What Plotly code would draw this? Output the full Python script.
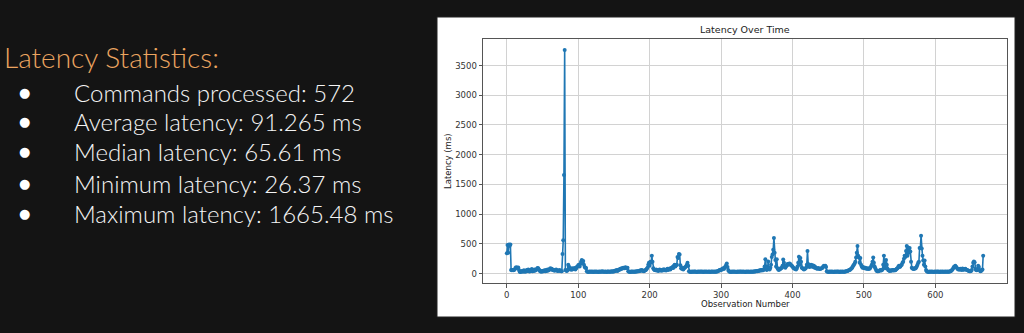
import plotly.graph_objects as go

# ---------------- data ----------------
stats_title = "Latency Statistics:"
stat_lines = [
    "Commands processed: 572",
    "Average latency: 91.265 ms",
    "Median latency: 65.61 ms",
    "Minimum latency: 26.37 ms",
    "Maximum latency: 1665.48 ms",
]

latency_ms = [
    340, 480, 350, 490, 470, 490, 60, 55, 62, 58,
    60, 70, 95, 105, 100, 98, 104, 60, 30, 28,
    35, 42, 30, 38, 55, 32, 40, 36, 60, 45,
    70, 38, 34, 62, 45, 75, 40, 55, 42, 68,
    50, 60, 78, 95, 90, 70, 48, 38, 30, 42,
    35, 48, 40, 55, 38, 62, 45, 70, 52, 60,
    75, 88, 70, 82, 65, 55, 60, 48, 62, 70,
    58, 45, 52, 48, 60, 42, 38, 40, 330, 560,
    1660, 3760, 60, 50, 45, 55, 150, 120, 90, 70,
    85, 65, 90, 75, 80, 95, 70, 85, 110, 120,
    140, 150, 120, 160, 200, 230, 180, 210, 150, 110,
    100, 95, 40, 30, 28, 32, 35, 30, 29, 33,
    30, 28, 34, 31, 29, 36, 30, 32, 28, 35,
    31, 29, 33, 30, 38, 32, 29, 31, 34, 30,
    28, 33, 36, 30, 29, 35, 31, 40, 33, 30,
    45, 38, 52, 48, 60, 42, 55, 70, 65, 80,
    78, 90, 85, 100, 95, 88, 105, 98, 92, 100,
    40, 30, 32, 28, 35, 30, 33, 29, 31, 36,
    30, 34, 40, 36, 45, 38, 42, 55, 48, 60,
    52, 45, 40, 50, 55, 65, 80, 100, 150, 180,
    130, 200, 180, 300, 200, 90, 70, 60, 55, 68,
    50, 62, 45, 58, 70, 52, 60, 48, 65, 55,
    72, 58, 62, 50, 68, 80, 60, 75, 85, 70,
    90, 100, 110, 95, 130, 150, 120, 140, 150, 280,
    260, 330, 320, 140, 90, 80, 95, 70, 85, 100,
    110, 120, 150, 180, 130, 40, 32, 30, 28, 34,
    30, 29, 33, 31, 35, 30, 28, 32, 34, 30,
    31, 36, 29, 33, 30, 28, 35, 31, 30, 33,
    29, 32, 30, 34, 31, 28, 33, 30, 36, 31,
    30, 35, 29, 32, 40, 36, 45, 50, 60, 55,
    70, 65, 80, 90, 75, 100, 120, 140, 170, 110,
    60, 40, 32, 30, 28, 33, 31, 29, 35, 30,
    32, 30, 28, 34, 31, 29, 33, 30, 36, 31,
    29, 34, 30, 32, 28, 35, 31, 30, 33, 29,
    31, 30, 36, 32, 29, 34, 30, 38, 33, 40,
    42, 38, 45, 50, 48, 55, 60, 52, 65, 58,
    70, 120, 240, 110, 60, 80, 205, 90, 70, 100,
    150, 280, 320, 400, 600, 350, 230, 120, 240, 90,
    70, 60, 80, 75, 90, 100, 130, 237, 180, 110,
    100, 120, 140, 160, 150, 165, 170, 155, 140, 130,
    120, 100, 90, 80, 75, 70, 85, 120, 180, 282,
    150, 260, 200, 100, 90, 80, 70, 75, 85, 100,
    150, 378, 160, 120, 110, 130, 150, 120, 140, 110,
    130, 100, 110, 90, 85, 80, 95, 85, 75, 80,
    85, 90, 100, 120, 130, 125, 130, 110, 40, 32,
    30, 28, 33, 31, 29, 35, 30, 32, 28, 34,
    31, 30, 36, 29, 33, 30, 28, 35, 31, 30,
    33, 29, 32, 30, 36, 40, 38, 45, 50, 55,
    60, 70, 80, 90, 110, 130, 150, 170, 200, 270,
    350, 463, 300, 270, 180, 260, 150, 120, 100, 110,
    95, 90, 100, 85, 80, 90, 75, 85, 80, 100,
    120, 150, 200, 270, 180, 120, 90, 60, 45, 40,
    38, 45, 52, 60, 50, 55, 70, 150, 300, 120,
    90, 230, 150, 80, 60, 50, 45, 55, 48, 52,
    60, 55, 50, 62, 58, 70, 80, 90, 110, 130,
    110, 120, 140, 150, 180, 200, 250, 300, 280, 380,
    463, 300, 440, 350, 430, 370, 200, 100, 85, 80,
    75, 90, 85, 100, 120, 150, 180, 200, 430, 430,
    637, 420, 300, 220, 150, 220, 120, 60, 40, 32,
    30, 28, 33, 31, 29, 35, 30, 32, 28, 34,
    31, 30, 36, 29, 33, 30, 28, 35, 31, 30,
    33, 29, 32, 30, 36, 31, 29, 34, 30, 32,
    35, 40, 45, 55, 70, 90, 110, 120, 130, 115,
    100, 80, 70, 75, 65, 80, 72, 60, 85, 70,
    65, 78, 80, 70, 60, 55, 50, 45, 40, 38,
    42, 60, 120, 180, 203, 190, 80, 60, 55, 70,
    130, 110, 60, 40, 45, 55, 70, 300,
]
observation = list(range(len(latency_ms)))

x_ticks = [0, 100, 200, 300, 400, 500, 600]
y_ticks = [0, 500, 1000, 1500, 2000, 2500, 3000, 3500]

chart_title = "Latency Over Time"
x_title = "Observation Number"
y_title = "Latency (ms)"

# ---------------- figure ----------------
W, H = 1024, 333
BG = "#141414"
LINE = "#1f77b4"
FONT = "DejaVu Sans"


def px_x(p):
    return p / W


def px_y(p):
    return 1 - p / H


# matplotlib-like 5% auto margins
xmin, xmax = min(observation), max(observation)
ymin, ymax = min(latency_ms), max(latency_ms)
xr = [xmin - 0.05 * (xmax - xmin), xmax + 0.05 * (xmax - xmin)]
yr = [ymin - 0.05 * (ymax - ymin), ymax + 0.05 * (ymax - ymin)]

fig = go.Figure()
fig.add_trace(go.Scatter(
    x=observation, y=latency_ms, mode="lines+markers",
    line=dict(color=LINE, width=1.6),
    marker=dict(color=LINE, size=4),
    hoverinfo="skip", showlegend=False,
))

axis_common = dict(
    showline=True, linecolor="#555", linewidth=1, mirror=True,
    showgrid=True, gridcolor="#d2d2d2", gridwidth=1,
    zeroline=False, ticks="outside", ticklen=3.5, tickwidth=1, tickcolor="#555",
    tickfont=dict(family=FONT, size=8.5, color="#333"),
)

fig.update_layout(
    width=W, height=H,
    margin=dict(l=0, r=0, t=0, b=0),
    paper_bgcolor=BG, plot_bgcolor="white",
    xaxis=dict(domain=[px_x(483), px_x(1007)], range=xr,
               tickvals=x_ticks, ticktext=[str(v) for v in x_ticks],
               anchor="y", **axis_common),
    yaxis=dict(domain=[px_y(283), px_y(39)], range=yr,
               tickvals=y_ticks, ticktext=[str(v) for v in y_ticks],
               anchor="x", **axis_common),
    shapes=[dict(type="rect", xref="paper", yref="paper",
                 x0=px_x(437), x1=px_x(1015), y0=px_y(317), y1=px_y(17),
                 fillcolor="white", line=dict(color="#222", width=1),
                 layer="below")],
)

annotations = [
    dict(text=chart_title, x=px_x(745), y=px_y(30), xanchor="center", yanchor="middle",
         font=dict(family=FONT, size=9.5, color="#222")),
    dict(text=x_title, x=px_x(745), y=px_y(304), xanchor="center", yanchor="middle",
         font=dict(family=FONT, size=8.5, color="#222")),
    dict(text=y_title, x=px_x(448), y=px_y(161), xanchor="center", yanchor="middle",
         textangle=-90, font=dict(family=FONT, size=8.5, color="#222")),
    dict(text=stats_title, x=px_x(2), y=px_y(57), xanchor="left", yanchor="middle",
         font=dict(family="Lato", size=28, color="#ECA560", weight=300)),
]
line_y = [92, 122, 152, 183, 214]
for txt, yy in zip(stat_lines, line_y):
    annotations.append(dict(text="●", x=px_x(24), y=px_y(yy), xanchor="center",
                            yanchor="middle",
                            font=dict(family="DejaVu Sans", size=13, color="white")))
    annotations.append(dict(text=txt, x=px_x(72), y=px_y(yy), xanchor="left",
                            yanchor="middle",
                            font=dict(family="Lato", size=24, color="#F4F4F4", weight=300)))
for a in annotations:
    a.update(xref="paper", yref="paper", showarrow=False)
fig.update_layout(annotations=annotations)

fig.write_html("out.html")
